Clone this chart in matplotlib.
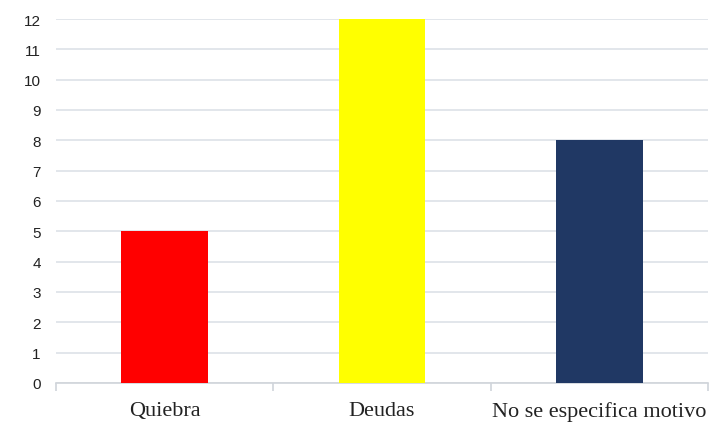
import matplotlib
matplotlib.use("Agg")
import matplotlib.pyplot as plt
import numpy as np

categories = ["Quiebra", "Deudas", "No se especifica motivo"]
values = [5, 12, 8]
colors = ["#FF0000", "#FFFF00", "#203864"]
yticks = list(range(0, 13))

fig = plt.figure(figsize=(7.15, 4.27), dpi=100)
ax = fig.add_axes([56/715, 1 - 384/427, (708-56)/715, (384-20)/427])

x = np.arange(len(categories))
ax.bar(x, values, width=0.4, color=colors, zorder=3)
ax.set_xlim(-0.5, len(categories) - 0.5)
ax.set_ylim(0, 12)
ax.set_yticks(yticks)
ax.set_yticklabels([str(t) for t in yticks], fontsize=11, family="Liberation Sans", color="#222222")
ax.yaxis.grid(True, color="#DDE1E8", linewidth=1.2, zorder=0)
ax.tick_params(axis="y", length=0, pad=11)

ax.set_xticks(x)
ax.set_xticklabels(categories, fontsize=16, family="Liberation Serif", color="#222222")
ax.tick_params(axis="x", which="major", length=0, pad=13)
ax.set_xticks(np.arange(-0.5, len(categories)), minor=True)
ax.tick_params(axis="x", which="minor", length=6, color="#D0D4DA", width=1.2)

for s in ["top", "right", "left"]:
    ax.spines[s].set_visible(False)
ax.spines["bottom"].set_color("#D0D4DA")
ax.spines["bottom"].set_linewidth(1.2)

fig.savefig("out.png", dpi=100)
